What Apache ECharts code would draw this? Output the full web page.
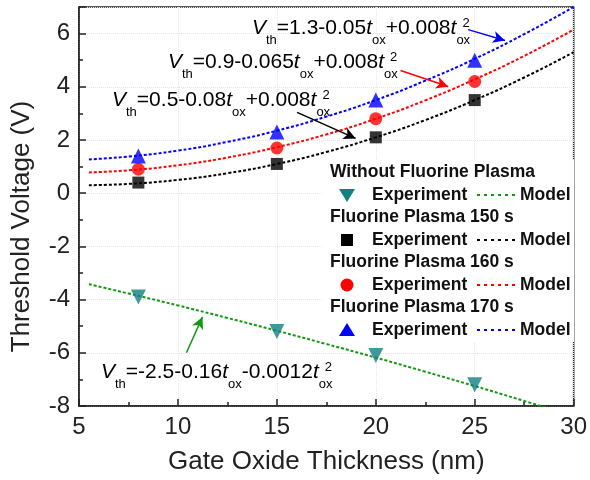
<!DOCTYPE html>
<html>
<head>
<meta charset="utf-8">
<script src="https://cdn.jsdelivr.net/npm/echarts@6/dist/echarts.min.js"></script>
<style>
html, body { margin: 0; padding: 0; background: #fff; }
#main { width: 590px; height: 480px; }
</style>
</head>
<body>
<div id="main"></div>
<script>
// measured points (gate oxide thickness, nm)
var thickness = [8, 15, 20, 25];
var expNoPlasma = [-3.9, -5.2, -6.1, -7.2];
var exp150 = [0.4, 1.1, 2.1, 3.5];
var exp160 = [0.9, 1.7, 2.8, 4.2];
var exp170 = [1.4, 2.3, 3.5, 5.0];

// model curves
var modelX = [5.5, 7.5, 10, 12.5, 15, 17.5, 20, 22.5, 25, 27.5, 30];
var modelNoPlasma = [-3.42, -3.77, -4.22, -4.69, -5.17, -5.67, -6.18, -6.71, -7.25, -7.81, -8.38];
var model150 = [0.30, 0.35, 0.50, 0.75, 1.10, 1.55, 2.10, 2.75, 3.50, 4.35, 5.30];
var model160 = [0.78, 0.86, 1.05, 1.34, 1.73, 2.21, 2.80, 3.49, 4.28, 5.16, 6.15];
var model170 = [1.27, 1.38, 1.60, 1.93, 2.35, 2.88, 3.50, 4.23, 5.05, 5.98, 7.00];

// annotation arrows [from, to] in data units
var arrowNoPlasma = [[10.43, -6.0], [11.24, -4.65]];
var arrow150 = [[16.02, 3.04], [18.98, 2.06]];
var arrow160 = [[21.25, 4.61], [23.66, 4.01]];
var arrow170 = [[24.67, 6.15], [26.53, 5.74]];

var FONT = 'Arial, "Liberation Sans", sans-serif';

function pairs(xs, ys) {
    var out = [];
    for (var i = 0; i < xs.length; i++) out.push([xs[i], ys[i]]);
    return out;
}

function expSeries(name, data, symbol, color, size, rotate) {
    return {
        name: name,
        type: 'scatter',
        data: pairs(thickness, data),
        symbol: symbol,
        symbolSize: size,
        symbolRotate: rotate || 0,
        itemStyle: { color: color },
        z: 5
    };
}

function modelSeries(name, data, color, arrow) {
    return {
        name: name,
        type: 'line',
        data: pairs(modelX, data),
        smooth: true,
        showSymbol: false,
        lineStyle: { color: color, width: 2, type: [3, 2] },
        markLine: {
            silent: true,
            symbol: ['none', 'arrow'],
            symbolSize: [9, 12],
            label: { show: false },
            lineStyle: { color: color, width: 1.5, type: 'solid' },
            data: [[{ coord: arrow[0] }, { coord: arrow[1] }]]
        },
        z: 3
    };
}

var rich = {
    v: { fontFamily: FONT, fontSize: 21, fontStyle: 'italic', lineHeight: 37, verticalAlign: 'middle', color: '#111' },
    n: { fontFamily: FONT, fontSize: 21, lineHeight: 37, verticalAlign: 'middle', color: '#111' },
    sub: { fontFamily: FONT, fontSize: 13, lineHeight: 13, verticalAlign: 'bottom', color: '#111' },
    subw: { fontFamily: FONT, fontSize: 13, lineHeight: 13, verticalAlign: 'bottom', width: 6, color: '#111' },
    sup: { fontFamily: FONT, fontSize: 13, lineHeight: 13, verticalAlign: 'middle', padding: [0, 0, 10, 0], color: '#111' }
};

function formula(x, y, a, b) {
    return {
        type: 'text',
        x: x,
        y: y,
        z: 20,
        style: {
            text: '{v|V}{sub|th}{n|=' + a + '}{v|t}{sub|ox}{n|' + b + '}{v|t}{subw|ox}{sup|2}',
            verticalAlign: 'middle',
            rich: rich
        }
    };
}

// legend, drawn by hand
var legendRows = [
    { title: 'Without Fluorine Plasma', marker: 'down', color: '#138080', line: '#119911' },
    { title: 'Fluorine Plasma 150 s', marker: 'square', color: '#000', line: '#000' },
    { title: 'Fluorine Plasma 160 s', marker: 'circle', color: '#ff0000', line: '#ff0000' },
    { title: 'Fluorine Plasma 170 s', marker: 'up', color: '#0000ff', line: '#0000ff' }
];

function legendGraphic() {
    var els = [{
        type: 'rect', shape: { x: 322, y: 160, width: 252, height: 182 },
        style: { fill: '#fff' }, z: 10
    }];
    var txt = { fontFamily: FONT, fontSize: 17.5, fontWeight: 'bold', fill: '#111', verticalAlign: 'middle' };
    legendRows.forEach(function (r, i) {
        var ty = 172 + i * 45;
        var ey = ty + 23;
        els.push({ type: 'text', x: 330, y: ty, z: 11, style: Object.assign({ text: r.title }, txt) });
        els.push({ type: 'text', x: 372, y: ey, z: 11, style: Object.assign({ text: 'Experiment' }, txt) });
        els.push({ type: 'text', x: 520, y: ey, z: 11, style: Object.assign({ text: 'Model' }, txt) });
        els.push({
            type: 'line', z: 11, shape: { x1: 477, y1: ey, x2: 516, y2: ey },
            style: { stroke: r.line, lineWidth: 2, lineDash: [3, 4] }
        });
        var cx = 347, mk;
        if (r.marker === 'square') {
            mk = { type: 'rect', shape: { x: cx - 6, y: ey - 6, width: 12, height: 12 }, style: { fill: r.color } };
        } else if (r.marker === 'circle') {
            mk = { type: 'circle', shape: { cx: cx, cy: ey, r: 6.5 }, style: { fill: r.color } };
        } else if (r.marker === 'up') {
            mk = { type: 'polygon', shape: { points: [[cx, ey - 7], [cx + 8, ey + 6], [cx - 8, ey + 6]] }, style: { fill: r.color } };
        } else {
            mk = { type: 'polygon', shape: { points: [[cx, ey + 7], [cx + 8, ey - 6], [cx - 8, ey - 6]] }, style: { fill: r.color } };
        }
        mk.z = 11;
        els.push(mk);
    });
    return els;
}

var chart = echarts.init(document.getElementById('main'));

var axisCommon = {
    type: 'value',
    nameLocation: 'middle',
    nameTextStyle: { fontFamily: FONT, fontSize: 26, color: '#222' },
    axisLine: { onZero: false, lineStyle: { color: '#222', width: 1.5 } },
    axisTick: { inside: true, length: 7, lineStyle: { color: '#222', width: 1.5 } },
    minorTick: { show: true, splitNumber: 2, length: 4, lineStyle: { color: '#222', width: 1.5 } },
    splitLine: { show: true, lineStyle: { color: '#e6e6e6', type: 'dotted', width: 1 } }
};

var option = {
    backgroundColor: '#fff',
    animation: false,
    grid: {
        left: 79, right: 14, top: 7, bottom: 74,
        show: true, borderColor: '#222', borderWidth: 1.5
    },
    xAxis: Object.assign({}, axisCommon, {
        min: 5, max: 30, interval: 5,
        name: 'Gate Oxide Thickness (nm)',
        nameGap: 43,
        axisLabel: { fontFamily: FONT, fontSize: 24, color: '#222', margin: 9 }
    }),
    yAxis: Object.assign({}, axisCommon, {
        min: -8, max: 7, interval: 2,
        name: 'Threshold Voltage (V)',
        nameGap: 44,
        nameTextStyle: { fontFamily: FONT, fontSize: 26, color: '#222', padding: [0, 40, 0, 0] },
        axisLabel: { fontFamily: FONT, fontSize: 24, color: '#222', margin: 9, showMaxLabel: false }
    }),
    series: [
        modelSeries('Model without', modelNoPlasma, '#119911', arrowNoPlasma),
        modelSeries('Model 150 s', model150, '#000', arrow150),
        modelSeries('Model 160 s', model160, '#ff0000', arrow160),
        modelSeries('Model 170 s', model170, '#0000ff', arrow170),
        expSeries('Experiment without', expNoPlasma, 'triangle', '#138080', 15, 180),
        expSeries('Experiment 150 s', exp150, 'rect', '#000', 12),
        expSeries('Experiment 160 s', exp160, 'circle', '#ff0000', 13),
        expSeries('Experiment 170 s', exp170, 'triangle', '#0000ff', 15)
    ],
    graphic: legendGraphic().concat([
        formula(252, 28, '1.3-0.05', '+0.008'),
        formula(168, 62, '0.9-0.065', '+0.008'),
        formula(112, 100, '0.5-0.08', '+0.008'),
        formula(101, 372, '-2.5-0.16', '-0.0012')
    ])
};

chart.setOption(option);
</script>
</body>
</html>
